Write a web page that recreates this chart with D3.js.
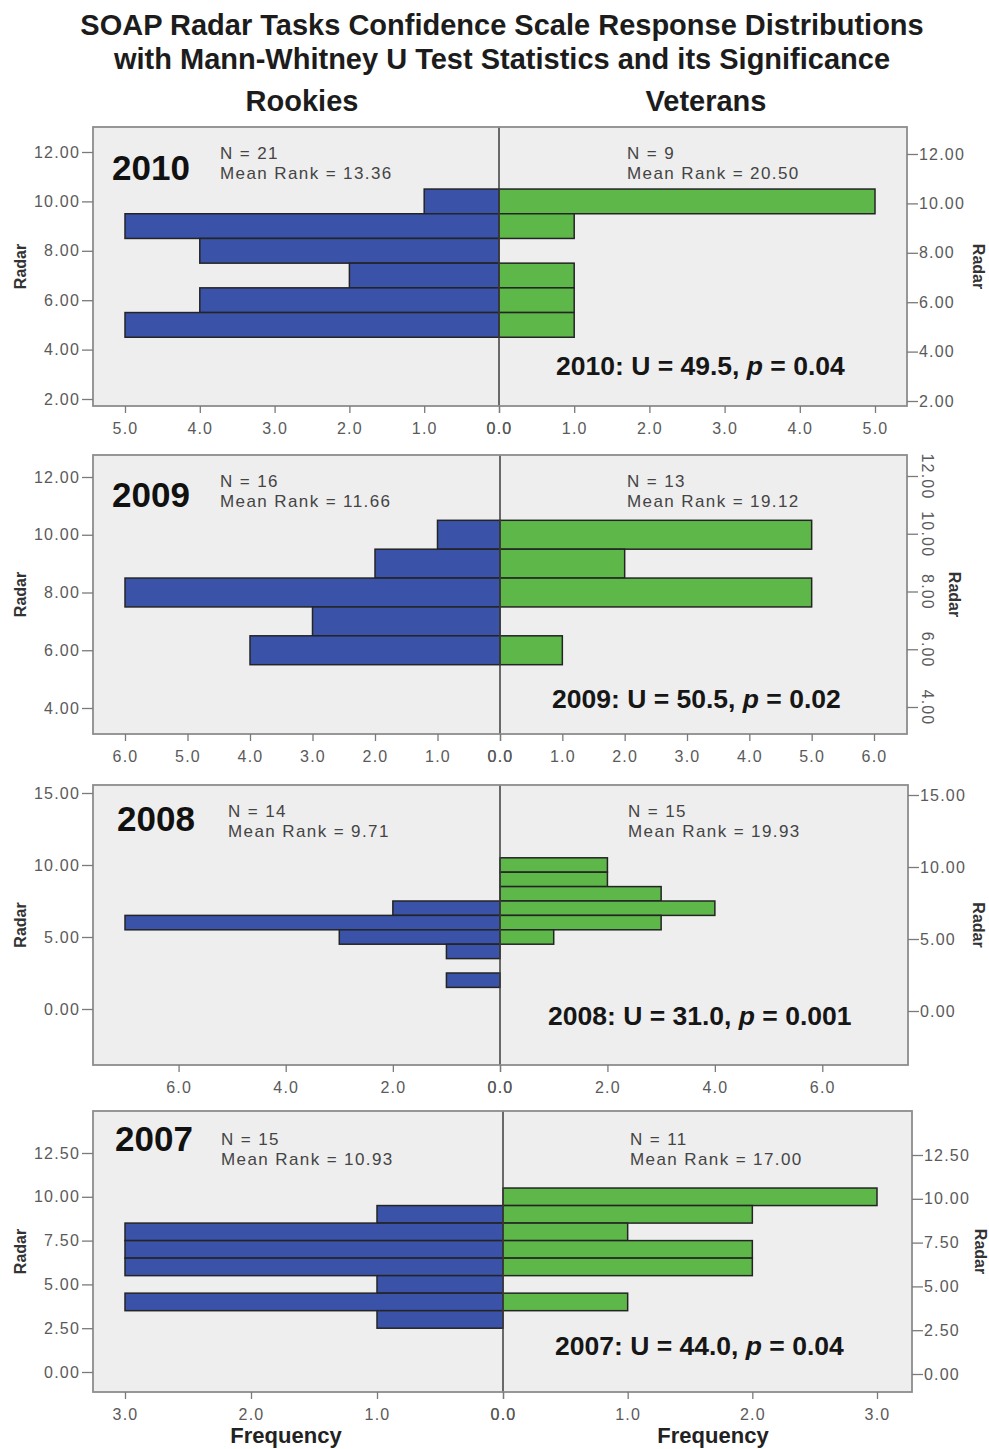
<!DOCTYPE html>
<html>
<head>
<meta charset="utf-8">
<script src="https://cdn.jsdelivr.net/npm/d3@7"></script>
<style>
  body { margin: 0; background: #ffffff; }
  text { font-family: "Liberation Sans", Arial, Helvetica, sans-serif; }
</style>
</head>
<body>
<svg id="chart" width="989" height="1449"></svg>
<script>
// Survey years, top to bottom
const years = ["2010", "2009", "2008", "2007"];

// Radar confidence score bins (bin centres) and response counts per group
const radarBins2010 = [10, 9, 8, 7, 6, 5];
const rookies2010   = [1, 5, 4, 2, 4, 5];
const veterans2010  = [5, 1, 0, 1, 1, 1];

const radarBins2009 = [10, 9, 8, 7, 6];
const rookies2009   = [1, 2, 6, 3, 4];
const veterans2009  = [5, 2, 5, 0, 1];

const radarBins2008 = [10, 9, 8, 7, 6, 5, 4, 3, 2];
const rookies2008   = [0, 0, 0, 2, 7, 3, 1, 0, 1];
const veterans2008  = [2, 2, 3, 4, 3, 1, 0, 0, 0];

const radarBins2007 = [10, 9, 8, 7, 6, 5, 4, 3];
const rookies2007   = [0, 1, 3, 3, 3, 1, 3, 1];
const veterans2007  = [3, 2, 1, 2, 2, 0, 1, 0];

// Group sizes and mean ranks
const nRookies         = [21, 16, 14, 15];
const meanRankRookies  = ["13.36", "11.66", "9.71", "10.93"];
const nVeterans        = [9, 13, 15, 11];
const meanRankVeterans = ["20.50", "19.12", "19.93", "17.00"];

// Mann-Whitney U statistics and significance
const uStats  = ["49.5", "50.5", "31.0", "44.0"];
const pValues = ["0.04", "0.02", "0.001", "0.04"];

// Axis tick values
const radarTicks2010 = [2, 4, 6, 8, 10, 12];
const radarTicks2009 = [4, 6, 8, 10, 12];
const radarTicks2008 = [0, 5, 10, 15];
const radarTicks2007 = [0, 2.5, 5, 7.5, 10, 12.5];
const freqTicks2010 = [0, 1, 2, 3, 4, 5];
const freqTicks2009 = [0, 1, 2, 3, 4, 5, 6];
const freqTicks2008 = [0, 2, 4, 6];
const freqTicks2007 = [0, 1, 2, 3];

const binsByYear     = [radarBins2010, radarBins2009, radarBins2008, radarBins2007];
const rookiesByYear  = [rookies2010, rookies2009, rookies2008, rookies2007];
const veteransByYear = [veterans2010, veterans2009, veterans2008, veterans2007];
const radarTicks     = [radarTicks2010, radarTicks2009, radarTicks2008, radarTicks2007];
const freqTicks      = [freqTicks2010, freqTicks2009, freqTicks2008, freqTicks2007];

// Panel geometry: box edges, centre line, two y anchors (value -> px),
// right end of the frequency scale, text placement
const panelLayout = [
  { top: 127,  bottom: 406,  right: 907, mid: 499, yA: [2, 399],  yB: [12, 152],   xEnd: 875,
    yearX: 112, yearY: 180, nY: 159, rookX: 220, vetX: 627, statX: 556, statY: 375, rotRight: false, radarRX: 973 },
  { top: 455,  bottom: 734,  right: 907, mid: 500, yA: [4, 708],  yB: [12, 477],   xEnd: 874,
    yearX: 112, yearY: 507, nY: 487, rookX: 220, vetX: 627, statX: 552, statY: 708, rotRight: true,  radarRX: 949 },
  { top: 785,  bottom: 1065, right: 908, mid: 500, yA: [0, 1009], yB: [15, 793],   xEnd: 876,
    yearX: 117, yearY: 831, nY: 817, rookX: 228, vetX: 628, statX: 548, statY: 1025, rotRight: false, radarRX: 973 },
  { top: 1111, bottom: 1392, right: 912, mid: 503, yA: [0, 1372], yB: [12.5, 1153], xEnd: 877,
    yearX: 115, yearY: 1151, nY: 1145, rookX: 221, vetX: 630, statX: 555, statY: 1355, rotRight: false, radarRX: 975 }
];

const BOX_LEFT = 93;
const FREQ_LEFT_END = 125;
const BLUE = "#3a53a8";
const GREEN = "#5db849";
const BAR_STROKE = "#242424";
const PANEL_BG = "#eeeeee";
const BOX_STROKE = "#8c8c8c";
const TICK_TEXT = "#5a5a5a";

const svg = d3.select("#chart");

// Titles and group headers
const titleColor = "#1c1c1c";
svg.append("text").attr("x", 502).attr("y", 35).attr("text-anchor", "middle")
  .attr("font-size", 29).attr("font-weight", "bold").attr("fill", titleColor)
  .text("SOAP Radar Tasks Confidence Scale Response Distributions");
svg.append("text").attr("x", 502).attr("y", 69).attr("text-anchor", "middle")
  .attr("font-size", 29).attr("font-weight", "bold").attr("fill", titleColor)
  .text("with Mann-Whitney U Test Statistics and its Significance");
svg.append("text").attr("x", 302).attr("y", 111).attr("text-anchor", "middle")
  .attr("font-size", 29).attr("font-weight", "bold").attr("fill", titleColor)
  .text("Rookies");
svg.append("text").attr("x", 706).attr("y", 111).attr("text-anchor", "middle")
  .attr("font-size", 29).attr("font-weight", "bold").attr("fill", titleColor)
  .text("Veterans");

function styleAxis(g) {
  g.select(".domain").remove();
  g.selectAll(".tick line").attr("stroke", "#7a7a7a").attr("stroke-width", 1.3);
  g.selectAll(".tick text")
    .attr("fill", TICK_TEXT)
    .attr("font-size", 16)
    .attr("letter-spacing", "1.2px")
    .style("font-family", "'Liberation Sans', Arial, sans-serif");
}

years.forEach((year, i) => {
  const L = panelLayout[i];
  const bins = binsByYear[i];
  const rook = rookiesByYear[i];
  const vet = veteransByYear[i];
  const maxFreq = d3.max([...rook, ...vet]);

  const y = d3.scaleLinear().domain([L.yA[0], L.yB[0]]).range([L.yA[1], L.yB[1]]);
  const xL = d3.scaleLinear().domain([0, maxFreq]).range([L.mid, FREQ_LEFT_END]);
  const xR = d3.scaleLinear().domain([0, maxFreq]).range([L.mid, L.xEnd]);

  const g = svg.append("g");

  // Plot area
  g.append("rect")
    .attr("x", BOX_LEFT).attr("y", L.top)
    .attr("width", L.right - BOX_LEFT).attr("height", L.bottom - L.top)
    .attr("fill", PANEL_BG);

  const rows = bins.map((b, k) => ({ bin: b, rook: rook[k], vet: vet[k] }));

  // Rookies (left, blue)
  g.selectAll("rect.rook").data(rows.filter(d => d.rook > 0)).join("rect")
    .attr("class", "rook")
    .attr("x", d => xL(d.rook))
    .attr("y", d => y(d.bin + 0.5))
    .attr("width", d => L.mid - xL(d.rook))
    .attr("height", d => y(d.bin - 0.5) - y(d.bin + 0.5))
    .attr("fill", BLUE).attr("stroke", BAR_STROKE).attr("stroke-width", 1.5);

  // Veterans (right, green)
  g.selectAll("rect.vet").data(rows.filter(d => d.vet > 0)).join("rect")
    .attr("class", "vet")
    .attr("x", L.mid)
    .attr("y", d => y(d.bin + 0.5))
    .attr("width", d => xR(d.vet) - L.mid)
    .attr("height", d => y(d.bin - 0.5) - y(d.bin + 0.5))
    .attr("fill", GREEN).attr("stroke", BAR_STROKE).attr("stroke-width", 1.5);

  // Centre divider
  g.append("line")
    .attr("x1", L.mid).attr("x2", L.mid).attr("y1", L.top).attr("y2", L.bottom)
    .attr("stroke", "#3c3c3c").attr("stroke-width", 1.5);

  // Frame
  g.append("rect")
    .attr("x", BOX_LEFT).attr("y", L.top)
    .attr("width", L.right - BOX_LEFT).attr("height", L.bottom - L.top)
    .attr("fill", "none").attr("stroke", BOX_STROKE).attr("stroke-width", 1.8);

  // Radar axes
  const fmtY = d3.format(".2f");
  g.append("g").attr("transform", `translate(${BOX_LEFT},0)`)
    .call(d3.axisLeft(y).tickValues(radarTicks[i]).tickFormat(fmtY).tickSize(11).tickPadding(2))
    .call(styleAxis);

  const rAxis = g.append("g").attr("transform", `translate(${L.right},2)`)
    .call(d3.axisRight(y).tickValues(radarTicks[i]).tickFormat(fmtY).tickSize(11).tickPadding(1))
    .call(styleAxis);
  if (L.rotRight) {
    rAxis.attr("transform", `translate(${L.right},-1)`);
    rAxis.selectAll(".tick text")
      .attr("x", 0).attr("dy", "0.35em")
      .attr("text-anchor", "middle")
      .attr("transform", "translate(21,0) rotate(90)");
  }

  // Frequency axes
  const fmtX = d3.format(".1f");
  g.append("g").attr("transform", `translate(0,${L.bottom})`)
    .call(d3.axisBottom(xL).tickValues(freqTicks[i]).tickFormat(fmtX).tickSize(7).tickPadding(10))
    .call(styleAxis);
  g.append("g").attr("transform", `translate(0,${L.bottom})`)
    .call(d3.axisBottom(xR).tickValues(freqTicks[i]).tickFormat(fmtX).tickSize(7).tickPadding(10))
    .call(styleAxis);

  // "Radar" axis titles
  const midY = (L.top + L.bottom) / 2;
  g.append("text")
    .attr("transform", `translate(26,${midY}) rotate(-90)`)
    .attr("text-anchor", "middle").attr("font-size", 16).attr("font-weight", "bold")
    .attr("fill", "#333").text("Radar");
  g.append("text")
    .attr("transform", `translate(${L.radarRX},${midY}) rotate(90)`)
    .attr("text-anchor", "middle").attr("font-size", 16).attr("font-weight", "bold")
    .attr("fill", "#333").text("Radar");

  // Year label
  g.append("text").attr("x", L.yearX).attr("y", L.yearY)
    .attr("font-size", 35).attr("font-weight", "bold").attr("fill", "#111")
    .text(year);

  // Group size and mean rank
  const infoStyle = sel => sel.attr("font-size", 17).attr("fill", "#444").attr("letter-spacing", "1.4px");
  g.append("text").attr("x", L.rookX).attr("y", L.nY).call(infoStyle).text(`N = ${nRookies[i]}`);
  g.append("text").attr("x", L.rookX).attr("y", L.nY + 20).call(infoStyle).text(`Mean Rank = ${meanRankRookies[i]}`);
  g.append("text").attr("x", L.vetX).attr("y", L.nY).call(infoStyle).text(`N = ${nVeterans[i]}`);
  g.append("text").attr("x", L.vetX).attr("y", L.nY + 20).call(infoStyle).text(`Mean Rank = ${meanRankVeterans[i]}`);

  // Test statistic
  const st = g.append("text").attr("x", L.statX).attr("y", L.statY)
    .attr("font-size", 26.5).attr("font-weight", "bold").attr("fill", "#161616");
  st.append("tspan").text(`${year}: U = ${uStats[i]}, `);
  st.append("tspan").attr("font-style", "italic").text("p");
  st.append("tspan").text(` = ${pValues[i]}`);
});

// Frequency axis titles under the last panel
svg.append("text").attr("x", 286).attr("y", 1443).attr("text-anchor", "middle")
  .attr("font-size", 22).attr("font-weight", "bold").attr("fill", "#222").text("Frequency");
svg.append("text").attr("x", 713).attr("y", 1443).attr("text-anchor", "middle")
  .attr("font-size", 22).attr("font-weight", "bold").attr("fill", "#222").text("Frequency");
</script>
</body>
</html>
